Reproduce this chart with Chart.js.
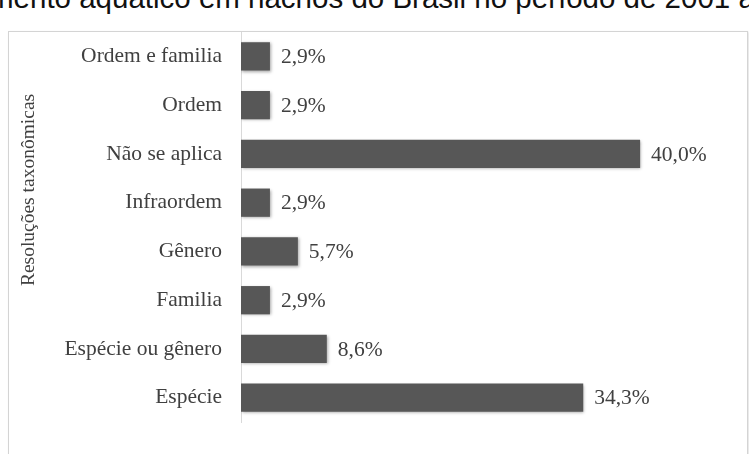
<!DOCTYPE html>
<html lang="pt">
<head>
<meta charset="utf-8">
<title>Resoluções taxonômicas</title>
<script src="https://cdn.jsdelivr.net/npm/chart.js@4/dist/chart.umd.min.js"></script>
<style>
  html, body { margin: 0; padding: 0; background: #fff; overflow: hidden; }
  body { width: 749px; height: 454px; position: relative; }
  #heading {
    position: absolute; left: -11px; top: -19px; margin: 0;
    font: 29.5px "Liberation Sans", Arial, sans-serif; color: #111;
    white-space: nowrap; line-height: 34px;
  }
  #frame {
    position: absolute; left: 8px; top: 31px; width: 740px; height: 440px;
    box-sizing: border-box; border: 1px solid #d4d4d4;
    box-shadow: 1px 1px 2px rgba(0,0,0,0.12);
  }
  #wrap { position: absolute; left: 0; top: 0; width: 749px; height: 454px; }
</style>
</head>
<body>
<p id="heading">mento aquático em riachos do Brasil no período de 2001 a 2021</p>
<div id="frame"></div>
<div id="wrap"><canvas id="chart" width="749" height="454"></canvas></div>
<script>
// Categories, top to bottom
const categories = [
  'Ordem e familia',
  'Ordem',
  'Não se aplica',
  'Infraordem',
  'Gênero',
  'Familia',
  'Espécie ou gênero',
  'Espécie'
];
// Share of studies per taxonomic resolution (%)
const percentages = [2.9, 2.9, 40.0, 2.9, 5.7, 2.9, 8.6, 34.3];
const axisTitle = 'Resoluções taxonômicas';

const serif = "'Liberation Serif', 'DejaVu Serif', serif";
const textColor = '#404040';

// Value labels to the right of each bar, e.g. "40,0%"
const valueLabels = {
  id: 'valueLabels',
  afterDatasetsDraw(chart) {
    const ctx = chart.ctx;
    const meta = chart.getDatasetMeta(0);
    ctx.save();
    ctx.font = '21.5px ' + serif;
    ctx.fillStyle = textColor;
    ctx.textAlign = 'left';
    ctx.textBaseline = 'middle';
    meta.data.forEach((bar, i) => {
      const txt = percentages[i].toFixed(1).replace('.', ',') + '%';
      ctx.fillText(txt, bar.x + 11, bar.y + 1);
    });
    ctx.restore();
  }
};

// Soft shadow under the bars
const barShadow = {
  id: 'barShadow',
  beforeDatasetsDraw(chart) {
    const ctx = chart.ctx;
    ctx.save();
    ctx.shadowColor = 'rgba(0,0,0,0.35)';
    ctx.shadowBlur = 3;
    ctx.shadowOffsetX = 1;
    ctx.shadowOffsetY = 1;
  },
  afterDatasetsDraw(chart) {
    chart.ctx.restore();
  }
};

// Rotated axis title on the left
const sideTitle = {
  id: 'sideTitle',
  afterDraw(chart) {
    const ctx = chart.ctx;
    const area = chart.chartArea;
    ctx.save();
    ctx.translate(29, area.top + 158);
    ctx.rotate(-Math.PI / 2);
    ctx.font = '19.5px ' + serif;
    ctx.fillStyle = textColor;
    ctx.textAlign = 'center';
    ctx.textBaseline = 'middle';
    ctx.fillText(axisTitle, 0, 0);
    ctx.restore();
  }
};

new Chart(document.getElementById('chart'), {
  type: 'bar',
  data: {
    labels: categories,
    datasets: [{
      data: percentages,
      backgroundColor: '#575757',
      borderWidth: 0,
      barPercentage: 0.58,
      categoryPercentage: 1.0
    }]
  },
  options: {
    indexAxis: 'y',
    responsive: false,
    animation: false,
    devicePixelRatio: 1,
    layout: { padding: { left: 0, right: 59, top: 32, bottom: 9 } },
    plugins: {
      legend: { display: false },
      tooltip: { enabled: false },
      title: { display: false }
    },
    scales: {
      x: {
        display: false,
        min: 0,
        max: 45
      },
      y: {
        afterFit(scale) { scale.width = 241; },
        grid: { display: false, drawTicks: false },
        border: { display: true, color: '#d9d9d9', width: 1 },
        ticks: {
          padding: 19,
          color: textColor,
          font: { family: serif, size: 21.5 }
        }
      }
    }
  },
  plugins: [barShadow, valueLabels, sideTitle]
});
</script>
</body>
</html>
